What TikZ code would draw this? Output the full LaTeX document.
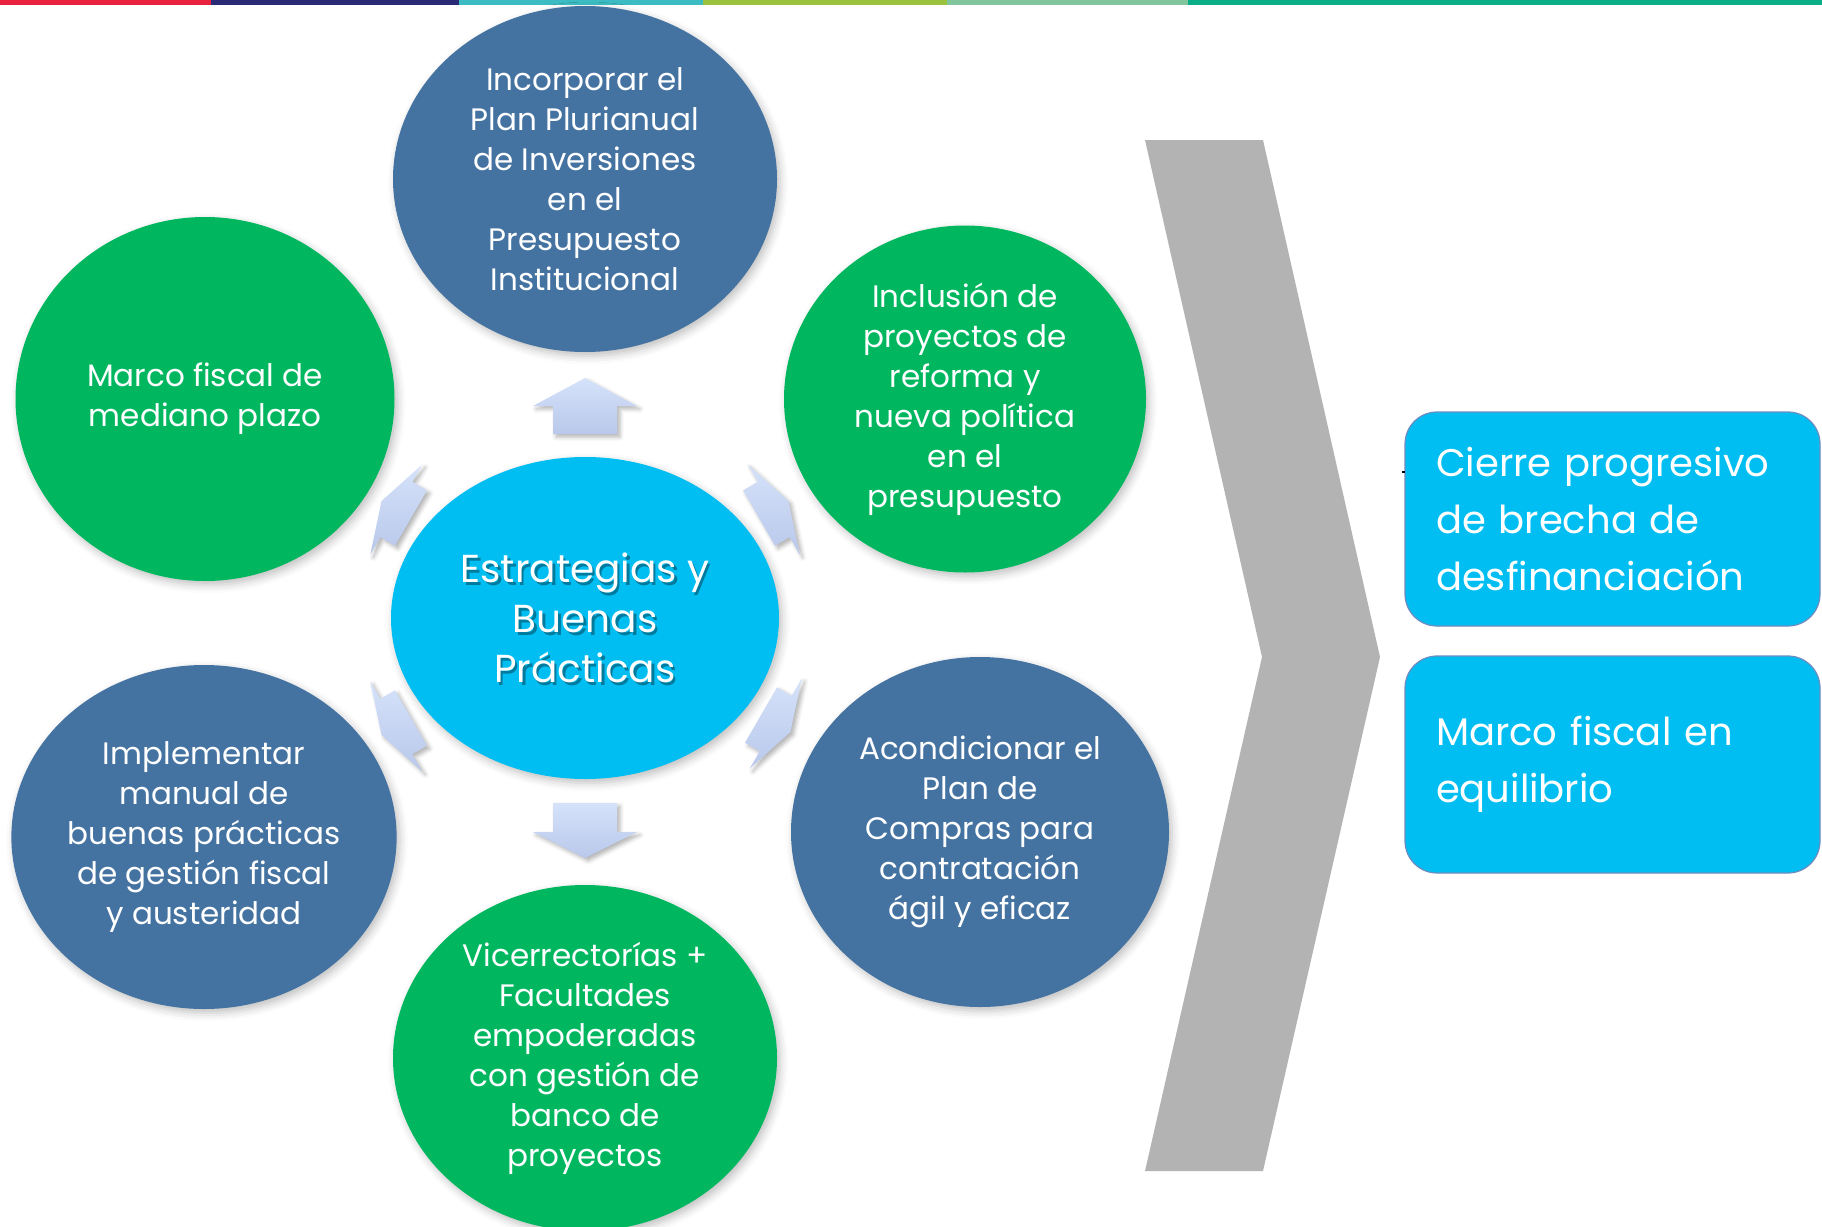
\documentclass[tikz,border=0pt]{standalone}
\usepackage{fontspec}
\setmainfont{Poppins}
\usetikzlibrary{calc,shapes.geometric,shadows.blur}
\definecolor{azulc}{RGB}{69,115,161}
\definecolor{verdec}{RGB}{0,183,96}
\definecolor{cian}{RGB}{0,190,242}
\definecolor{gris}{RGB}{179,179,179}
\definecolor{flechaA}{RGB}{213,226,250}
\definecolor{flechaB}{RGB}{185,200,235}
\definecolor{borde}{RGB}{108,140,192}
\definecolor{barRojo}{RGB}{232,34,62}
\definecolor{barNavy}{RGB}{43,42,118}
\definecolor{barTeal}{RGB}{60,188,194}
\definecolor{barLima}{RGB}{155,194,60}
\definecolor{barMenta}{RGB}{128,197,156}
\definecolor{barVerde}{RGB}{10,174,134}
\newcommand{\Flecha}[4]{
  \begin{scope}[shift={#1},rotate=#2]
    \path[flecha] (0,-32) -- ({#3-#4},-32) -- ({#3-#4},-52) -- (#3,0)
      -- ({#3-#4},52) -- ({#3-#4},32) -- (0,32) -- cycle;
  \end{scope}
}

\begin{document}
\begin{tikzpicture}[x=1pt,y=-1pt,
  circulo/.style={ellipse,inner sep=0pt,align=center,text=white,
    font=\fontsize{31}{40}\selectfont,
    blur shadow={shadow xshift=3pt,shadow yshift=-4pt,shadow blur radius=8pt,shadow opacity=25}},
  flecha/.style={top color=flechaA,bottom color=flechaB,
    blur shadow={shadow xshift=3pt,shadow yshift=-3pt,shadow blur radius=4pt,shadow opacity=30}},
  caja/.style={rectangle,rounded corners=32pt,draw=borde,line width=1.2pt,fill=cian,
    text=white,text width=353pt,inner xsep=31pt,align=left,
    font=\fontsize{38.5}{57}\selectfont}]
  \useasboundingbox (0,0) rectangle (1822,1226);
  % franja de colores
  \foreach \a/\b/\c in {0/211/barRojo,211/459/barNavy,459/703/barTeal,
      703/947/barLima,947/1188/barMenta,1188/1822/barVerde}
    \fill[\c] (\a,0) rectangle (\b,5);

  \node[circulo,fill=cian,minimum width=388pt,minimum height=322pt] (ctr) at (585,618) {};
  \node[align=center,text=black,opacity=.35,font=\fontsize{39}{50}\selectfont]
    (ctrsombra) at ($(ctr)+(2.5,2.5)$) {Estrategias y\\Buenas\\Prácticas};
  \node[align=center,text=white,font=\fontsize{39}{50}\selectfont]
    (ctrtexto) at (ctr) {Estrategias y\\Buenas\\Prácticas};

  \node[circulo,fill=azulc,minimum width=384pt,minimum height=346pt] (plan) at (585,179)
    {Incorporar el\\Plan Plurianual\\de Inversiones\\en el\\Presupuesto\\Institucional};
  \node[circulo,fill=verdec,minimum width=379pt,minimum height=364pt] (marco) at (205,399)
    {Marco fiscal de\\mediano plazo};
  \node[circulo,fill=verdec,minimum width=362pt,minimum height=347pt] (inclusion) at (965,399)
    {Inclusión de\\proyectos de\\reforma y\\nueva política\\en el\\presupuesto};
  \node[circulo,fill=azulc,minimum width=385pt,minimum height=344pt] (manual) at (204,837)
    {Implementar\\manual de\\buenas prácticas\\de gestión fiscal\\y austeridad};
  \node[circulo,fill=azulc,minimum width=378pt,minimum height=350pt] (compras) at (980,832)
    {Acondicionar el\\Plan de\\Compras para\\contratación\\ágil y eficaz};
  \node[circulo,fill=verdec,minimum width=384pt,minimum height=346pt] (vice) at (585,1058)
    {Vicerrectorías +\\Facultades\\empoderadas\\con gestión de\\banco de\\proyectos};

  % flechas desde el centro
  \Flecha{($(ctr)+(0,-184)$)}{90}{56}{28}
  \Flecha{($(ctr)+(0,185)$)}{-90}{55}{26}
  \Flecha{($(ctr)+(-174,-100)$)}{150}{34}{17}
  \Flecha{($(ctr)+(174,-100)$)}{30}{34}{17}
  \Flecha{($(ctr)+(-174,100)$)}{210}{34}{17}
  \Flecha{($(ctr)+(176,97)$)}{-30}{34}{17}

  \fill[gris] (1145,140) -- (1263,140) -- (1380,657) -- (1263,1171)
    -- (1145,1171) -- (1262,657) -- cycle;

  \node[caja,minimum height=214pt] (cierre) at (1612.5,519)
    {\mbox{Cierre progresivo}\\de brecha de\\desfinanciación};
  \node[caja,minimum height=217pt] (equilibrio) at (1612.5,764.5)
    {Marco fiscal en\\equilibrio};
  \fill (1402,470.5) rectangle (1405,472.5);
\end{tikzpicture}
\end{document}
